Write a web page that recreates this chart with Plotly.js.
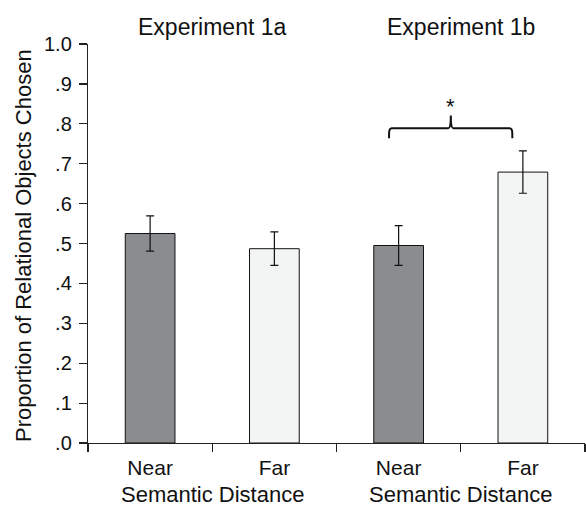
<!DOCTYPE html>
<html>
<head>
<meta charset="utf-8">
<script src="https://cdn.plot.ly/plotly-3.0.1.min.js"></script>
<style>html,body{margin:0;padding:0;background:#fff;}#chart{width:586px;height:508px;}</style>
</head>
<body>
<div id="chart"></div>
<script>
const categories = ["Near", "Far", "Near", "Far"];
const experiments = ["Experiment 1a", "Experiment 1b"];
const values = [0.525, 0.487, 0.495, 0.679];
const errors = [0.044, 0.042, 0.050, 0.053];
const barColors = ["#8b8c90", "#f3f5f4", "#8b8c90", "#f3f5f4"];
const yTickVals = [0, 0.1, 0.2, 0.3, 0.4, 0.5, 0.6, 0.7, 0.8, 0.9, 1.0];
const yTickText = [".0", ".1", ".2", ".3", ".4", ".5", ".6", ".7", ".8", ".9", "1.0"];
const xAxisLabel = "Semantic Distance";
const yAxisLabel = "Proportion of Relational Objects Chosen";

const FONT = "Liberation Sans, Arial, sans-serif";
const xIdx = categories.map((_, i) => i);

const trace = {
  type: "bar",
  x: xIdx,
  y: values,
  width: 0.4,
  marker: {color: barColors, line: {color: "#111", width: 1}},
  error_y: {type: "data", array: errors, visible: true, color: "#111", thickness: 1.2, width: 4},
  hoverinfo: "none"
};
const boundaryTrace = {type: "scatter", x: [], y: [], xaxis: "x2", yaxis: "y", showlegend: false, hoverinfo: "none"};

// brace between Experiment 1b bars
const bl = 1.923, br = 2.915, bm = 2.42, yb = 0.764, yh = 0.789, yp = 0.821;
const bracePath = `M ${bl} ${yb} L ${bl} 0.776 Q ${bl} ${yh} ${bl + 0.022} ${yh} L ${bm - 0.02} ${yh} Q ${bm} ${yh} ${bm} ${yp} Q ${bm} ${yh} ${bm + 0.02} ${yh} L ${br - 0.022} ${yh} Q ${br} ${yh} ${br} 0.776 L ${br} ${yb}`;

const annotations = [
  {text: experiments[0], x: 0.5, xref: "x", y: 1.0426, yref: "paper", xanchor: "center", yanchor: "middle", showarrow: false, font: {family: FONT, size: 23, color: "#111"}},
  {text: experiments[1], x: 2.5, xref: "x", y: 1.0426, yref: "paper", xanchor: "center", yanchor: "middle", showarrow: false, font: {family: FONT, size: 23, color: "#111"}},
  {text: xAxisLabel, x: 0.5, xref: "x", y: -0.1635, yref: "paper", xanchor: "center", yanchor: "bottom", borderpad: 0, showarrow: false, font: {family: FONT, size: 22, color: "#111"}},
  {text: xAxisLabel, x: 2.5, xref: "x", y: -0.1635, yref: "paper", xanchor: "center", yanchor: "bottom", borderpad: 0, showarrow: false, font: {family: FONT, size: 22, color: "#111"}},
  {text: yAxisLabel, x: -0.13, xref: "paper", y: 0.495, yref: "paper", xanchor: "center", yanchor: "middle", textangle: -90, showarrow: false, font: {family: FONT, size: 22, color: "#111"}},
  {text: "*", x: bm, xref: "x", y: 0.843, yref: "y", xanchor: "center", yanchor: "middle", showarrow: false, font: {family: FONT, size: 22, color: "#111"}}
];

const layout = {
  width: 586, height: 508,
  margin: {l: 88, r: 1, t: 44, b: 65, pad: 0},
  paper_bgcolor: "#fff", plot_bgcolor: "#fff",
  showlegend: false,
  font: {family: FONT, color: "#111"},
  xaxis: {
    range: [-0.5, 3.5], tickvals: xIdx, ticktext: categories, ticks: "", ticklabelstandoff: 6,
    showline: true, linecolor: "#222", linewidth: 1.2, showgrid: false, zeroline: false,
    tickfont: {family: FONT, size: 21, color: "#111"}, fixedrange: true
  },
  xaxis2: {
    overlaying: "x", range: [-0.5, 3.5], tickvals: [-0.5, 0.5, 1.5, 2.5, 3.5],
    ticks: "outside", ticklen: 8, tickwidth: 1.2, tickcolor: "#222",
    showticklabels: false, showline: false, showgrid: false, zeroline: false, side: "bottom", anchor: "y"
  },
  yaxis: {
    range: [0, 1], tickvals: yTickVals, ticktext: yTickText, ticks: "outside", ticklen: 8, ticklabelstandoff: 3,
    tickwidth: 1.2, tickcolor: "#222", showline: true, linecolor: "#222", linewidth: 1.2,
    showgrid: false, zeroline: false, tickfont: {family: FONT, size: 20, color: "#111"}, fixedrange: true
  },
  shapes: [{type: "path", path: bracePath, xref: "x", yref: "y", line: {color: "#111", width: 2}}],
  annotations: annotations
};

Plotly.newPlot("chart", [trace, boundaryTrace], layout, {staticPlot: true, displayModeBar: false});
</script>
</body>
</html>
